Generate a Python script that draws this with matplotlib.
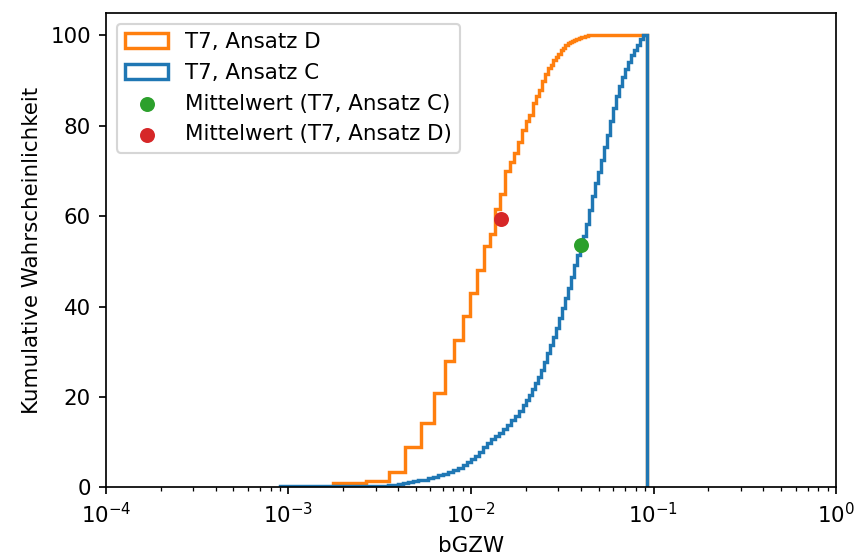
import numpy as np
import matplotlib
matplotlib.use("Agg")
import matplotlib.pyplot as plt

# T7, Ansatz D - step edges (bGZW) and cumulative probability in %
ansatz_d_edges = [0.00175, 0.00266, 0.00355, 0.00435, 0.00531, 0.00626, 0.00718, 0.0081,
                  0.0090, 0.0099, 0.01085, 0.01178, 0.0127, 0.0136, 0.0145, 0.0154,
                  0.0164, 0.0173, 0.0182, 0.0191, 0.0200, 0.0209, 0.0219, 0.0228,
                  0.0237, 0.0246, 0.0255, 0.0264, 0.0274, 0.0283, 0.0292, 0.0301,
                  0.0310, 0.0320, 0.0329, 0.0338, 0.0347, 0.0356, 0.0366, 0.0375,
                  0.0393, 0.0402, 0.0420, 0.0439, 0.0925]
ansatz_d_cum = [0.9, 1.4, 3.3, 8.9, 14.2, 20.8, 28.0, 32.5,
                37.9, 43.0, 48.0, 53.3, 56.0, 61.5, 65.0, 70.0,
                72.0, 74.0, 76.5, 79.0, 81.0, 82.5, 85.0, 86.5,
                88.0, 90.0, 91.5, 92.8, 93.5, 94.5, 95.3, 96.0,
                96.8, 97.3, 97.8, 98.4, 98.6, 98.8, 99.0, 99.2,
                99.4, 99.6, 99.8, 100.0]

# T7, Ansatz C
ansatz_c_edges = [0.0009, 0.00350, 0.00373, 0.00397, 0.00423, 0.00451, 0.00480, 0.00512,
                  0.00545, 0.00580, 0.00618, 0.00659, 0.00702, 0.00747, 0.00796, 0.00848,
                  0.00904, 0.00951, 0.0100, 0.01052, 0.01107, 0.01164, 0.01224, 0.01288,
                  0.01355, 0.01425, 0.01499, 0.01577, 0.01659, 0.01745, 0.01835, 0.01931,
                  0.02006, 0.02083, 0.02164, 0.02247, 0.02334, 0.02424, 0.02518, 0.02615,
                  0.02716, 0.02821, 0.02931, 0.03044, 0.03162, 0.03284, 0.03412, 0.03543,
                  0.03681, 0.03823, 0.03971, 0.04124, 0.04284, 0.04450, 0.04622, 0.04801,
                  0.04987, 0.05180, 0.05380, 0.05588, 0.05803, 0.06028, 0.06261, 0.06503,
                  0.06755, 0.07017, 0.07288, 0.07570, 0.07863, 0.08167, 0.08483, 0.08811,
                  0.0925]
ansatz_c_cum = [0.3, 0.4, 0.5, 0.7, 0.9, 1.1, 1.3, 1.5,
                1.7, 2.0, 2.3, 2.6, 3.0, 3.3, 3.7, 4.2,
                4.9, 5.5, 6.2, 7.0, 7.9, 8.9, 9.8, 10.6,
                11.3, 12.0, 12.8, 13.7, 14.8, 15.8, 16.9, 18.2,
                19.3, 20.5, 21.8, 23.0, 24.4, 26.0, 27.8, 29.6,
                31.5, 33.3, 35.3, 37.5, 39.6, 41.8, 44.1, 46.6,
                49.1, 51.3, 53.3, 55.6, 58.3, 61.3, 64.5, 67.3,
                69.8, 72.4, 75.2, 78.0, 81.0, 84.0, 86.6, 88.8,
                90.8, 92.6, 94.2, 95.6, 96.8, 97.9, 99.2, 100.0]

# mean values (bGZW, cumulative %)
mean_c = (0.0400, 53.6)
mean_d = (0.0146, 59.4)


def cum_hist(ax, edges, cum, color, label):
    edges = np.array(edges)
    weights = np.diff(np.concatenate([[0.0], cum]))
    ax.hist(edges[:-1], bins=edges, weights=weights, cumulative=True,
            histtype="step", color=color, linewidth=1.6, label=label)


DPI = 154
fig = plt.figure(figsize=(854 / DPI, 560 / DPI), dpi=DPI)
ax = fig.add_subplot(111)
fig.subplots_adjust(left=0.124, right=0.979, bottom=0.130, top=0.977)

cum_hist(ax, ansatz_d_edges, ansatz_d_cum, "tab:orange", "T7, Ansatz D")
cum_hist(ax, ansatz_c_edges, ansatz_c_cum, "tab:blue", "T7, Ansatz C")
ax.scatter([mean_c[0]], [mean_c[1]], color="tab:green", label="Mittelwert (T7, Ansatz C)", zorder=3)
ax.scatter([mean_d[0]], [mean_d[1]], color="tab:red", label="Mittelwert (T7, Ansatz D)", zorder=3)

ax.set_xscale("log")
ax.set_xlim(1e-4, 1)
ax.set_ylim(0, 105)
ax.set_xlabel("bGZW")
ax.set_ylabel("Kumulative Wahrscheinlichkeit")
ax.legend(loc="upper left")

fig.savefig("out.png", dpi=DPI)
